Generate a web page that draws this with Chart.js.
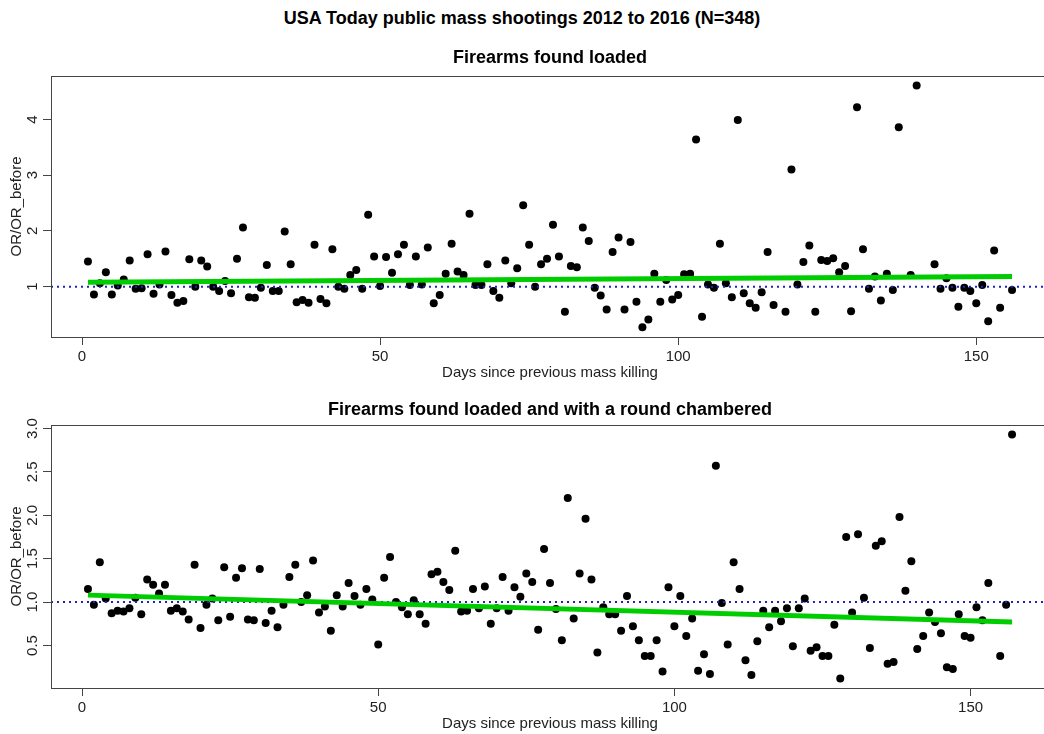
<!DOCTYPE html>
<html><head><meta charset="utf-8">
<script src="https://cdn.jsdelivr.net/npm/chart.js@4.4.1/dist/chart.umd.min.js"></script>
<style>
html,body{margin:0;padding:0;background:#fff;overflow:hidden;width:1044px;height:734px;}
#wrap{position:relative;width:1044px;height:734px;overflow:hidden;background:#fff;}
#title{position:absolute;left:0;top:7px;width:1044px;text-align:center;font:bold 18px "Liberation Sans",Arial,sans-serif;line-height:22px;color:#000;}
canvas{position:absolute;left:0;}
#c1{top:0;}
#c2{top:383px;}
</style></head><body>
<div id="wrap">
<div id="title"></div>
<canvas id="c1" width="1053" height="383"></canvas>
<canvas id="c2" width="1053" height="351"></canvas>
</div>
<script>
// ---------------- data ----------------
const mainTitle = "USA Today public mass shootings 2012 to 2016 (N=348)";
const topTitle = "Firearms found loaded";
const bottomTitle = "Firearms found loaded and with a round chambered";
const xTitle = "Days since previous mass killing";
const yTitle = "OR/OR_before";

const xTickValues = [0, 50, 100, 150];
const topYTickValues = [1, 2, 3, 4];
const bottomYTickValues = [0.5, 1.0, 1.5, 2.0, 2.5, 3.0];

const topDays = [1,2,3,4,5,6,7,8,9,10,11,12,13,14,15,16,17,18,19,20,
  21,22,23,24,25,26,27,28,29,30,31,32,33,34,35,36,37,38,39,40,
  41,42,43,44,45,46,47,48,49,50,51,52,53,54,55,56,57,58,59,60,
  61,62,63,64,65,66,67,68,69,70,71,72,73,74,75,76,77,78,79,80,
  81,82,83,84,85,86,87,88,89,90,91,92,93,94,95,96,97,98,99,100,
  101,102,103,104,105,106,107,108,109,110,111,112,113,114,115,116,118,119,120,
  121,122,123,124,125,126,127,128,129,130,131,132,133,134,135,136,137,139,140,
  143,144,145,146,147,148,149,150,151,152,153,154,156];
const topOR = [1.45,0.86,1.06,1.26,0.86,1.02,1.13,1.47,0.96,0.97,1.58,0.87,1.04,1.63,0.85,0.71,0.74,1.49,1.00,1.47,
  1.36,1.00,0.92,1.10,0.88,1.50,2.06,0.81,0.80,0.98,1.39,0.92,0.92,1.99,1.40,0.72,0.76,0.71,1.75,0.78,
  0.70,1.67,1.00,0.96,1.21,1.30,0.96,2.29,1.54,1.01,1.53,1.25,1.58,1.75,1.03,1.54,1.04,1.70,0.70,0.85,
  1.23,1.77,1.27,1.21,2.31,1.03,1.03,1.40,0.92,0.80,1.47,1.06,1.33,2.46,1.75,1.00,1.40,1.50,2.11,1.54,
  0.55,1.37,1.35,2.06,1.82,0.98,0.84,0.59,1.62,1.88,0.59,1.80,0.73,0.27,0.41,1.23,0.73,1.12,0.77,0.85,
  1.22,1.23,3.64,0.46,1.04,0.98,1.77,1.06,0.81,3.99,0.88,0.70,0.62,0.90,1.62,0.67,0.55,3.10,1.04,
  1.44,1.74,0.55,1.48,1.46,1.51,1.26,1.37,0.56,4.22,1.67,0.96,1.18,0.75,1.23,0.94,3.86,1.21,4.61,
  1.40,0.96,1.15,0.98,0.64,0.98,0.92,0.70,1.03,0.38,1.65,0.62,0.94];
const topTrendDays = [1, 156];
const topTrendOR = [1.08, 1.18];

const bottomDays = [1,2,3,4,5,6,7,8,9,10,11,12,13,14,15,16,17,18,19,20,
  21,22,23,24,25,26,27,28,29,30,31,32,33,34,35,36,37,38,39,40,
  41,42,43,44,45,46,47,48,49,50,51,52,53,54,55,56,57,58,59,60,
  61,62,63,64,65,66,67,68,69,70,71,72,73,74,75,76,77,78,79,80,
  81,82,83,84,85,86,87,88,89,90,91,92,93,94,95,96,97,98,99,100,
  101,102,103,104,105,106,107,108,109,110,111,112,113,114,115,116,117,118,119,120,
  121,122,123,124,125,126,127,128,129,130,131,132,133,134,135,136,137,138,139,140,
  141,142,143,144,145,146,147,148,149,150,151,152,153,155,156,157];
const bottomOR = [1.15,0.97,1.46,1.04,0.87,0.90,0.89,0.93,1.05,0.86,1.26,1.20,1.10,1.20,0.90,0.93,0.89,0.80,1.43,0.70,
  0.97,1.04,0.79,1.40,0.83,1.28,1.39,0.80,0.79,1.38,0.76,0.90,0.71,0.97,1.29,1.43,1.00,1.08,1.48,0.88,
  0.95,0.67,1.08,0.95,1.22,1.07,0.97,1.15,1.03,0.51,1.28,1.52,1.00,0.94,0.86,1.02,0.86,0.75,1.32,1.35,
  1.23,1.14,1.59,0.89,0.90,1.15,0.93,1.18,0.75,0.93,1.29,0.90,1.17,1.06,1.33,1.23,0.68,1.61,1.22,0.92,
  0.56,2.20,0.81,1.33,1.96,1.26,0.42,0.94,0.86,0.86,0.67,1.07,0.72,0.56,0.38,0.38,0.56,0.20,1.17,0.72,
  1.07,0.61,0.81,0.21,0.40,0.17,2.57,0.99,0.51,1.46,1.15,0.33,0.16,0.55,0.90,0.71,0.90,0.78,0.93,0.49,
  0.93,1.04,0.44,0.48,0.38,0.38,0.74,0.12,1.75,0.88,1.78,1.05,0.47,1.65,1.70,0.29,0.31,1.98,1.13,1.47,
  0.46,0.61,0.88,0.77,0.64,0.25,0.23,0.86,0.61,0.59,0.94,0.79,1.22,0.38,0.97,2.93];
const bottomTrendDays = [1, 157];
const bottomTrendOR = [1.08, 0.77];

const referenceOR = 1;

// ---------------- rendering ----------------
document.getElementById('title').textContent = mainTitle;

const FONT = '"Liberation Sans", Arial, sans-serif';

const frameSub = {
  id: 'frameSub',
  afterDraw(chart, args, opts) {
    const {ctx, chartArea: a} = chart;
    ctx.save();
    ctx.strokeStyle = '#444';
    ctx.lineWidth = 1;
    ctx.strokeRect(Math.round(a.left) + 0.5, Math.round(a.top) + 0.5,
                   Math.round(a.right - a.left), Math.round(a.bottom - a.top));
    ctx.fillStyle = '#000';
    ctx.font = 'bold 18px ' + FONT;
    ctx.textAlign = 'center';
    ctx.textBaseline = 'middle';
    ctx.fillText(opts.text, (a.left + a.right) / 2, opts.y);
    ctx.restore();
  }
};

function pairs(xs, ys) { return xs.map((x, i) => ({x: x, y: ys[i]})); }

function makeChart(id, cfg) {
  const axisFont = {family: FONT, size: 15};
  return new Chart(document.getElementById(id), {
    type: 'scatter',
    data: {
      datasets: [
        {
          data: pairs(cfg.trendDays, cfg.trendOR),
          showLine: true, borderColor: '#00cd00', borderWidth: 5,
          pointRadius: 0, pointHoverRadius: 0, order: 0, borderCapStyle: 'butt'
        },
        {
          data: [{x: cfg.xMin, y: referenceOR}, {x: cfg.xMax, y: referenceOR}],
          showLine: true, borderColor: '#2222c0', borderWidth: 2, borderDash: [2, 4],
          pointRadius: 0, pointHoverRadius: 0, order: 1
        },
        {
          data: pairs(cfg.days, cfg.values),
          backgroundColor: '#000', borderColor: '#000', borderWidth: 0,
          pointRadius: 4, pointHoverRadius: 4, order: 2
        }
      ]
    },
    options: {
      responsive: false, animation: false, devicePixelRatio: 1,
      layout: {padding: {top: cfg.padTop, right: 1, bottom: 0, left: 0}},
      plugins: {
        legend: {display: false}, tooltip: {enabled: false},
        frameSub: {text: cfg.title, y: cfg.titleY}
      },
      scales: {
        x: {
          type: 'linear', min: cfg.xMin, max: cfg.xMax,
          afterBuildTicks: s => { s.ticks = xTickValues.map(v => ({value: v})); },
          afterFit: s => { s.height = 46; },
          grid: {display: true, drawOnChartArea: false, drawTicks: true, tickLength: 8, color: '#444', lineWidth: 1},
          border: {display: false},
          ticks: {font: axisFont, color: '#222', padding: 3, maxRotation: 0, minRotation: 0, autoSkip: false,
                  callback: v => String(v)},
          title: {display: true, text: xTitle, font: axisFont, color: '#222', padding: {top: 0, bottom: 1}}
        },
        y: {
          type: 'linear', min: cfg.yMin, max: cfg.yMax,
          afterBuildTicks: s => { s.ticks = cfg.yTicks.map(v => ({value: v})); },
          afterFit: s => { s.width = 51; },
          grid: {display: true, drawOnChartArea: false, drawTicks: true, tickLength: 8, color: '#444', lineWidth: 1},
          border: {display: false},
          ticks: {font: axisFont, color: '#222', padding: cfg.yTickPad, minRotation: 90, maxRotation: 90,
                  crossAlign: 'center', autoSkip: false, callback: cfg.yFmt},
          title: {display: true, text: yTitle, font: axisFont, color: '#222', padding: {top: 8, bottom: 0}}
        }
      }
    },
    plugins: [frameSub]
  });
}

makeChart('c1', {
  days: topDays, values: topOR, trendDays: topTrendDays, trendOR: topTrendOR,
  xMin: -5.2, xMax: 162.2, yMin: 0.096, yMax: 4.78, yTicks: topYTickValues,
  yFmt: v => String(v), yTickPad: 6, padTop: 76, title: topTitle, titleY: 58
});
makeChart('c2', {
  days: bottomDays, values: bottomOR, trendDays: bottomTrendDays, trendOR: bottomTrendOR,
  xMin: -5.24, xMax: 163.24, yMin: 0.01, yMax: 3.04, yTicks: bottomYTickValues,
  yFmt: v => Number(v).toFixed(1), yTickPad: 0, padTop: 42, title: bottomTitle, titleY: 27
});
</script>
</body></html>
